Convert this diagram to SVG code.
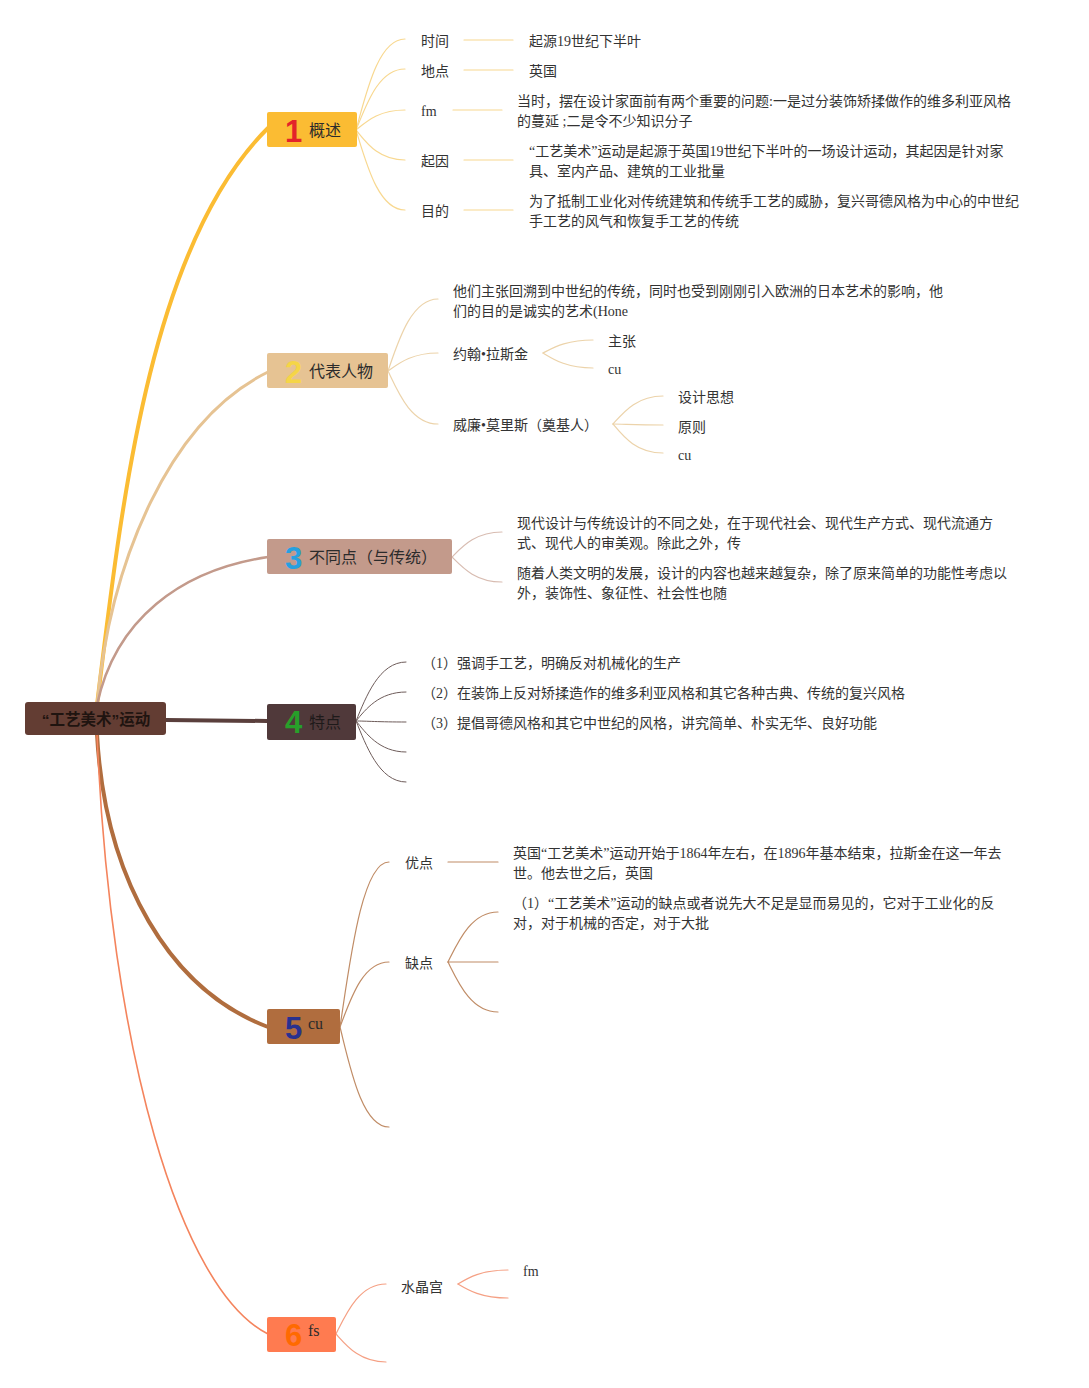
<svg xmlns="http://www.w3.org/2000/svg" width="1089" height="1388" viewBox="0 0 1089 1388">
<style>
.t{font-family:"Liberation Serif","Noto Sans CJK SC",serif;font-size:14px;fill:#333333}
.n{font-family:"Liberation Serif","Noto Sans CJK SC",serif;font-size:16px;fill:#2b2b2b}
.d{font-family:"Liberation Sans",Arial,sans-serif;font-size:31px;font-weight:bold}
.root{font-family:"Liberation Sans","Noto Sans CJK SC",sans-serif;font-size:15.5px;font-weight:bold;fill:#1f1410}
path,line{fill:none;stroke-linecap:round}
.c1{stroke:#f8d890;stroke-width:1.2}
.c2{stroke:#ecd3aa;stroke-width:1.2}
.c3{stroke:#d8bcb1;stroke-width:1.2}
.c4{stroke:#6e5c5a;stroke-width:1}
.c5{stroke:#c08c66;stroke-width:1.2}
.c6{stroke:#f5a084;stroke-width:1.2}
</style>
<rect width="1089" height="1388" fill="#ffffff"/>
<g id="connectors">
<path d="M97 705 C122 500 150 245 268 128" stroke="#fbbc33" stroke-width="4"/>
<path d="M97 705 C110 560 170 420 268 372" stroke="#e6c393" stroke-width="3"/>
<path d="M97 705 C115 620 180 570 268 557" stroke="#c39a8b" stroke-width="2.5"/>
<line x1="166" y1="720" x2="267" y2="721" stroke="#5a3f3c" stroke-width="4"/>
<path d="M97 734 C105 880 170 990 268 1027" stroke="#b06d3e" stroke-width="4"/>
<path d="M97 734 C110 1050 180 1290 268 1334" stroke="#f4845d" stroke-width="1.6"/>
<path class="c1" d="M356 130 C366 94 378 39 405 39"/>
<path class="c1" d="M356 130 C366 106 378 69 405 69"/>
<path class="c1" d="M356 130 C366 122 378 110 405 110"/>
<path class="c1" d="M356 130 C366 142 378 160 405 160"/>
<path class="c1" d="M356 130 C366 162 378 210 405 210"/>
<line class="c1" x1="464" y1="40" x2="513" y2="40"/>
<line class="c1" x1="464" y1="70" x2="513" y2="70"/>
<line class="c1" x1="453" y1="110" x2="502" y2="110"/>
<line class="c1" x1="464" y1="160" x2="513" y2="160"/>
<line class="c1" x1="464" y1="210" x2="513" y2="210"/>
<path class="c2" d="M388 371 C398 342 411 299 438 299"/>
<path class="c2" d="M388 371 C398 364 411 353 438 353"/>
<path class="c2" d="M388 371 C398 392 411 424 438 424"/>
<path class="c2" d="M543 353 C553 348 566 340 593 340"/>
<path class="c2" d="M543 353 C553 359 566 368 593 368"/>
<path class="c2" d="M613 424 C623 413 636 396 663 396"/>
<path class="c2" d="M613 424 C623 424 636 425 663 425"/>
<path class="c2" d="M613 424 C623 436 636 453 663 453"/>
<path class="c3" d="M452 557 C462 547 475 532 502 532"/>
<path class="c3" d="M452 557 C462 567 475 582 502 582"/>
<path class="c4" d="M356 721 C366 697 379 662 406 662"/>
<path class="c4" d="M356 721 C366 709 379 692 406 692"/>
<path class="c4" d="M356 721 C366 721 379 722 406 722"/>
<path class="c4" d="M356 721 C366 733 379 752 406 752"/>
<path class="c4" d="M356 721 C366 745 379 782 406 782"/>
<path class="c5" d="M340 1027 C350 961 362 862 389 862"/>
<path class="c5" d="M340 1027 C350 1001 362 962 389 962"/>
<path class="c5" d="M340 1027 C350 1067 362 1127 389 1127"/>
<line class="c5" x1="448" y1="862" x2="498" y2="862"/>
<path class="c5" d="M448 962 C458 942 471 912 498 912"/>
<path class="c5" d="M448 962 C458 962 471 962 498 962"/>
<path class="c5" d="M448 962 C458 982 471 1012 498 1012"/>
<path class="c6" d="M336 1334 C346 1314 359 1284 386 1284"/>
<path class="c6" d="M336 1334 C346 1345 359 1362 386 1362"/>
<path class="c6" d="M458 1284 C468 1278 481 1270 508 1270"/>
<path class="c6" d="M458 1284 C468 1290 481 1298 508 1298"/>
</g>
<g id="root">
<rect x="25" y="702" width="141" height="33" rx="3" fill="#633d33"/>
<text class="root" x="96" y="725" text-anchor="middle">“工艺美术”运动</text>
</g>
<g id="n1">
<rect x="267" y="112" width="90" height="35" rx="2" fill="#fbbc33"/>
<text class="d" x="285" y="142" fill="#e3232a">1</text>
<text class="n" x="309" y="136">概述</text>
</g>
<g id="n1-1"><text class="t" x="421" y="46">时间</text><text class="t" x="529" y="46">起源19世纪下半叶</text></g>
<g id="n1-2"><text class="t" x="421" y="76">地点</text><text class="t" x="529" y="76">英国</text></g>
<g id="n1-3"><text class="t" x="421" y="116">fm</text><text class="t" x="517" y="106">当时，摆在设计家面前有两个重要的问题:一是过分装饰矫揉做作的维多利亚风格</text><text class="t" x="517" y="126">的蔓延 ;二是令不少知识分子</text></g>
<g id="n1-4"><text class="t" x="421" y="166">起因</text><text class="t" x="529" y="156">“工艺美术”运动是起源于英国19世纪下半叶的一场设计运动，其起因是针对家</text><text class="t" x="529" y="176">具、室内产品、建筑的工业批量</text></g>
<g id="n1-5"><text class="t" x="421" y="216">目的</text><text class="t" x="529" y="206">为了抵制工业化对传统建筑和传统手工艺的威胁，复兴哥德风格为中心的中世纪</text><text class="t" x="529" y="226">手工艺的风气和恢复手工艺的传统</text></g>
<g id="n2">
<rect x="267" y="353" width="121" height="35" rx="2" fill="#e6c393"/>
<text class="d" x="285" y="383" fill="#f5d547">2</text>
<text class="n" x="309" y="377">代表人物</text>
</g>
<g id="n2-1"><text class="t" x="453" y="296">他们主张回溯到中世纪的传统，同时也受到刚刚引入欧洲的日本艺术的影响，他</text><text class="t" x="453" y="316">们的目的是诚实的艺术(Hone</text></g>
<g id="n2-2"><text class="t" x="453" y="359">约翰•拉斯金</text></g>
<g id="n2-2-1"><text class="t" x="608" y="346">主张</text></g>
<g id="n2-2-2"><text class="t" x="608" y="374">cu</text></g>
<g id="n2-3"><text class="t" x="453" y="430">威廉•莫里斯（奠基人）</text></g>
<g id="n2-3-1"><text class="t" x="678" y="402">设计思想</text></g>
<g id="n2-3-2"><text class="t" x="678" y="432">原则</text></g>
<g id="n2-3-3"><text class="t" x="678" y="460">cu</text></g>
<g id="n3">
<rect x="267" y="539" width="185" height="35" rx="2" fill="#c39a8b"/>
<text class="d" x="285" y="569" fill="#26a0df">3</text>
<text class="n" x="309" y="563">不同点（与传统）</text>
</g>
<g id="n3-1"><text class="t" x="517" y="528">现代设计与传统设计的不同之处，在于现代社会、现代生产方式、现代流通方</text><text class="t" x="517" y="548">式、现代人的审美观。除此之外，传</text></g>
<g id="n3-2"><text class="t" x="517" y="578">随着人类文明的发展，设计的内容也越来越复杂，除了原来简单的功能性考虑以</text><text class="t" x="517" y="598">外，装饰性、象征性、社会性也随</text></g>
<g id="n4">
<rect x="267" y="704" width="89" height="36" rx="2" fill="#50393a"/>
<text class="d" x="285" y="733" fill="#27a02a">4</text>
<text class="n" x="309" y="728" style="fill:#1e1a1a">特点</text>
</g>
<g id="n4-1"><text class="t" x="422" y="668">（1）强调手工艺，明确反对机械化的生产</text></g>
<g id="n4-2"><text class="t" x="422" y="698">（2）在装饰上反对矫揉造作的维多利亚风格和其它各种古典、传统的复兴风格</text></g>
<g id="n4-3"><text class="t" x="422" y="728">（3）提倡哥德风格和其它中世纪的风格，讲究简单、朴实无华、良好功能</text></g>
<g id="n5">
<rect x="267" y="1009" width="73" height="35" rx="2" fill="#b06d3e"/>
<text class="d" x="285" y="1039" fill="#28318f">5</text>
<text class="n" x="308" y="1029">cu</text>
</g>
<g id="n5-1"><text class="t" x="405" y="868">优点</text><text class="t" x="513" y="858">英国“工艺美术”运动开始于1864年左右，在1896年基本结束，拉斯金在这一年去</text><text class="t" x="513" y="878">世。他去世之后，英国</text></g>
<g id="n5-2"><text class="t" x="405" y="968">缺点</text><text class="t" x="513" y="908">（1）“工艺美术”运动的缺点或者说先大不足是显而易见的，它对于工业化的反</text><text class="t" x="513" y="928">对，对于机械的否定，对于大批</text></g>
<g id="n6">
<rect x="267" y="1317" width="69" height="35" rx="2" fill="#ff7b50"/>
<text class="d" x="285" y="1346" fill="#ff6a00">6</text>
<text class="n" x="308" y="1336">fs</text>
</g>
<g id="n6-1"><text class="t" x="401" y="1292">水晶宫</text></g>
<g id="n6-1-1"><text class="t" x="523" y="1276">fm</text></g>
</svg>
